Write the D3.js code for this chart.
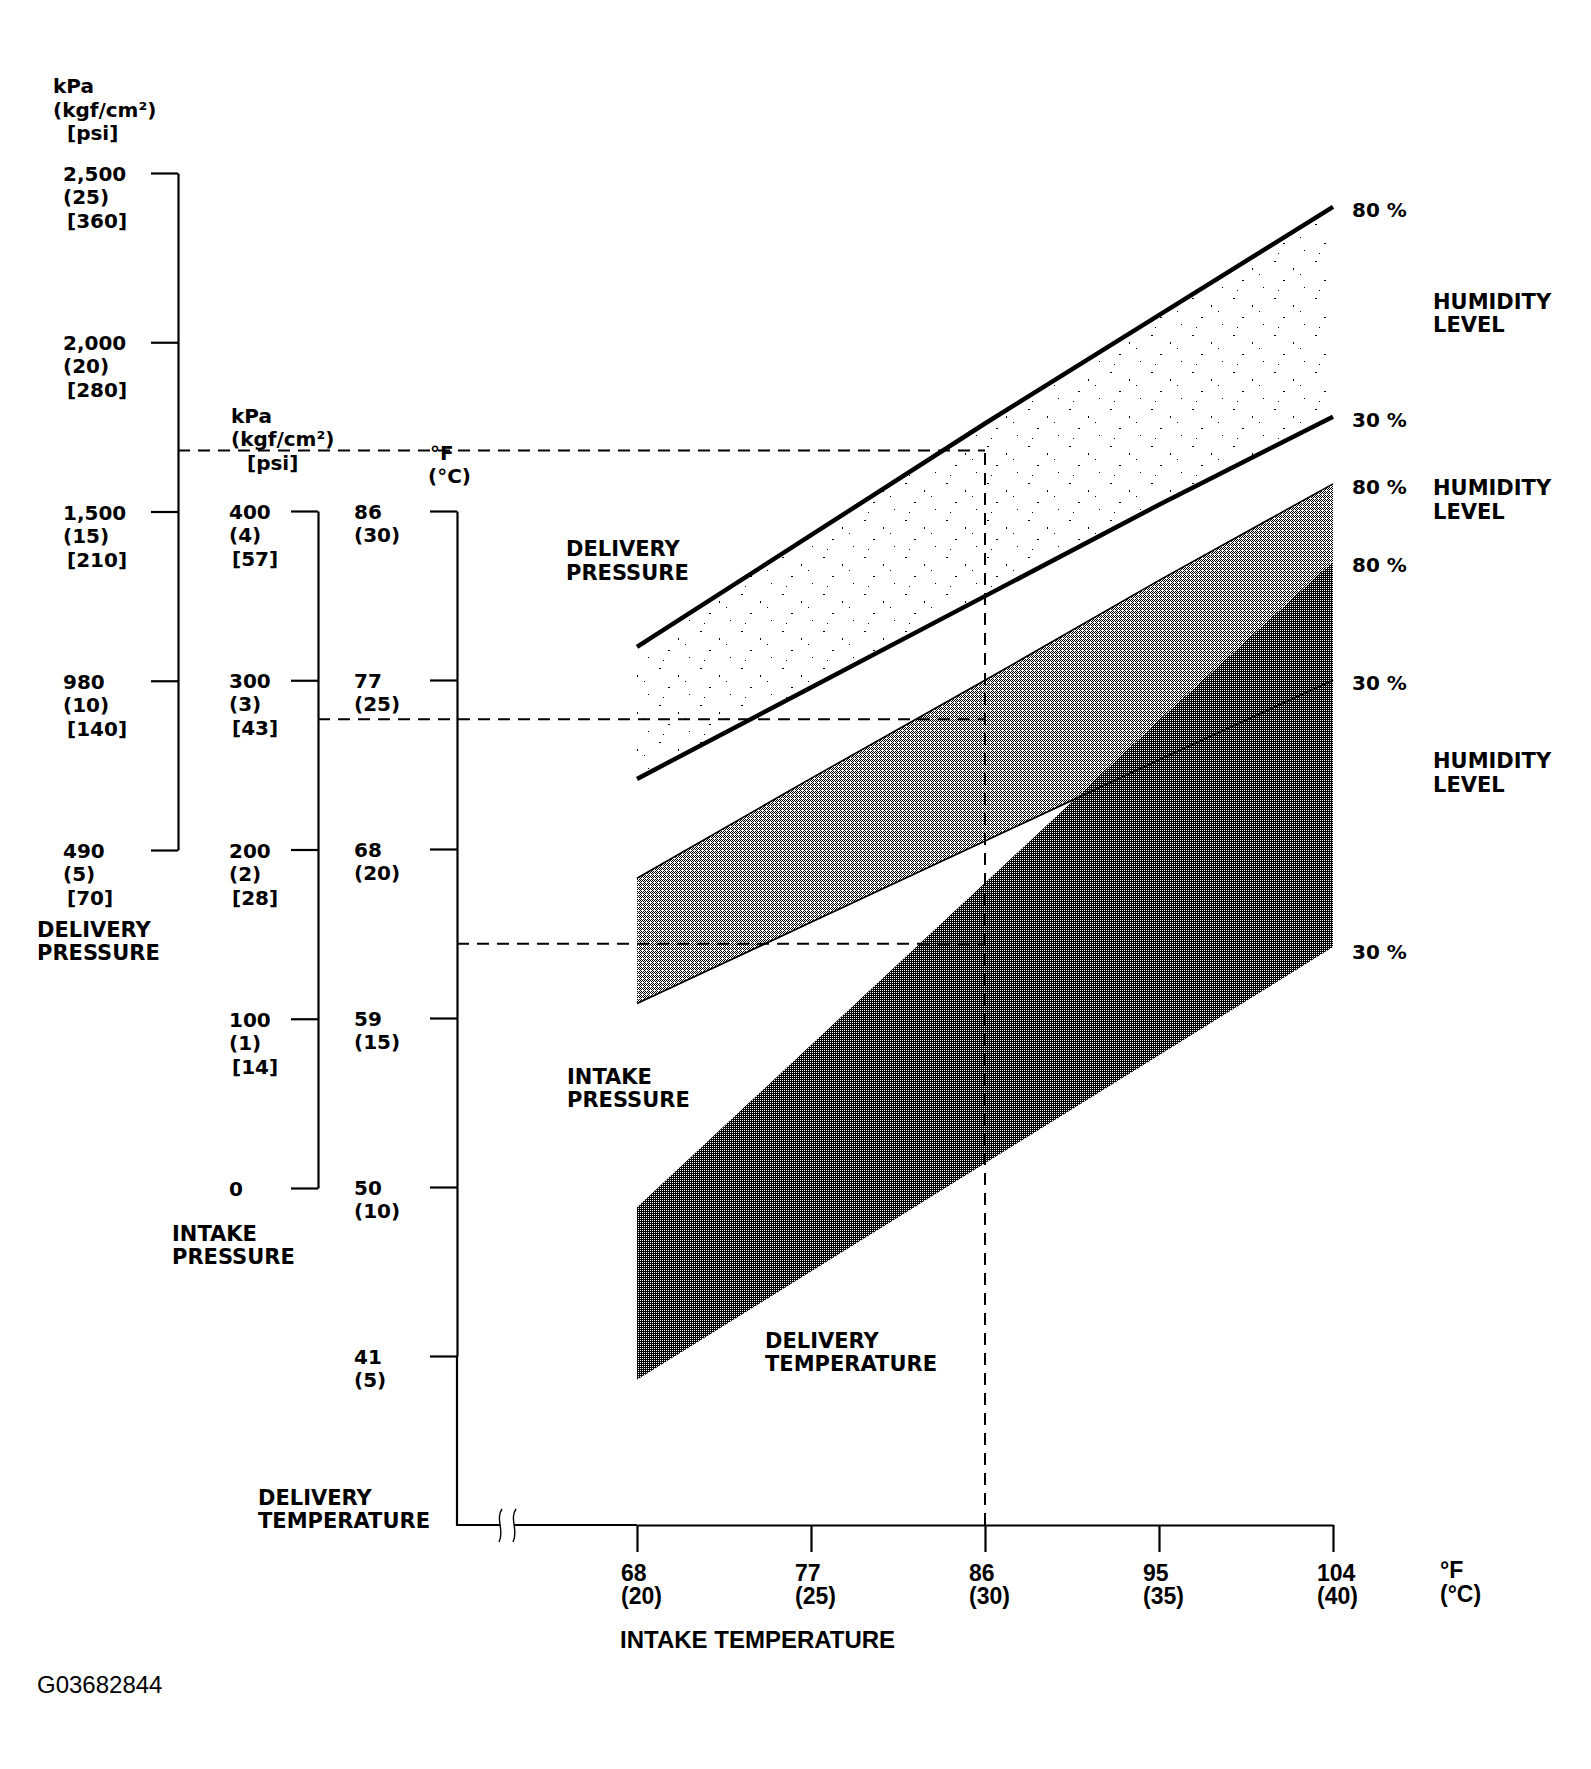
<!DOCTYPE html>
<html><head><meta charset="utf-8">
<script src="https://cdn.jsdelivr.net/npm/d3@7"></script>
<style>
body{margin:0;background:#fff;}
svg text{font-family:"DejaVu Sans",sans-serif;font-weight:bold;fill:#000;}
.t20{font-size:20px;}
.t21{font-size:21px;}
.pct{font-size:20px;}
.xl{font-family:"Liberation Sans",Arial,sans-serif;font-size:23px;}
.xt{font-family:"Liberation Sans",Arial,sans-serif;font-size:24px;}
.code{font-family:"Liberation Sans",Arial,sans-serif;font-weight:normal !important;font-size:24px;}
</style></head><body>
<svg id="chart" width="1591" height="1769"></svg>
<script>
// ---------- data ----------
const intakeTempC = [20, 25, 30, 35, 40];
const intakeTempF = [68, 77, 86, 95, 104];

const dpKpa = ["2,500", "2,000", "1,500", "980", "490"];
const dpKgf = [25, 20, 15, 10, 5];
const dpPsi = [360, 280, 210, 140, 70];

const ipKpa = ["400", "300", "200", "100", "0"];
const ipKgf = [4, 3, 2, 1, 0];
const ipPsi = [57, 43, 28, 14, null];

const dtF = [86, 77, 68, 59, 50, 41];
const dtC = [30, 25, 20, 15, 10, 5];

// band values at intakeTempC (kgf/cm2 for pressures, degC for temperature)
const deliveryPressure80 = [11.0, 14.3, 17.6, 20.8, 24.0];
const deliveryPressure30 = [7.1, 9.8, 12.5, 15.2, 17.8];
const intakePressure80 = [1.83, 2.42, 3.0, 3.59, 4.16];
const intakePressure30 = [1.09, 1.57, 2.05, 2.53, 3.0];
const deliveryTemp80 = [9.4, 14.2, 19.0, 23.8, 28.5];
const deliveryTemp30 = [4.3, 7.5, 10.7, 13.9, 17.1];

// example reading (dashed lines)
const exampleTempC = 30;
const exampleDeliveryPressure = 16.8;
const exampleIntakePressure = 2.77;
const exampleDeliveryTemp = 17.2;

// ---------- layout ----------
const svg = d3.select("#chart");
const dpAxisX = 178, ipAxisX = 318, dtAxisX = 457, xAxisY = 1525;

const x = d3.scaleLinear().domain([20, 40]).range([637, 1333]);
const yDP = d3.scaleLinear().domain([5, 25]).range([850, 173]);
const yIP = d3.scaleLinear().domain([0, 4]).range([1188, 511]);
const yDT = d3.scaleLinear().domain([5, 30]).range([1356, 511]);

// ---------- patterns ----------
const defs = svg.append("defs");
const pDots = defs.append("pattern").attr("id", "dots").attr("patternUnits", "userSpaceOnUse")
  .attr("width", 41).attr("height", 37);
[[3, 2, 2, 1], [22, 9, 1, 2], [12, 21, 2, 1], [33, 28, 1, 1], [29, 15, 1, 1], [7, 31, 1, 1]].forEach(r =>
  pDots.append("rect").attr("x", r[0]).attr("y", r[1]).attr("width", r[2]).attr("height", r[3]).attr("fill", "#000"));
const pLight = defs.append("pattern").attr("id", "light").attr("patternUnits", "userSpaceOnUse")
  .attr("width", 4).attr("height", 4);
pLight.append("rect").attr("width", 4).attr("height", 4).attr("fill", "#fff");
[[0, 0], [2, 0], [1, 1], [3, 1], [0, 2], [1, 3], [3, 3]].forEach(p =>
  pLight.append("rect").attr("x", p[0]).attr("y", p[1]).attr("width", 1).attr("height", 1).attr("fill", "#000"));
const pDark = defs.append("pattern").attr("id", "dark").attr("patternUnits", "userSpaceOnUse")
  .attr("width", 2).attr("height", 2);
pDark.append("rect").attr("width", 2).attr("height", 2).attr("fill", "#000");
pDark.append("rect").attr("x", 0).attr("y", 0).attr("width", 1).attr("height", 1).attr("fill", "#fff");

// ---------- bands ----------
const rows = (lo, hi) => intakeTempC.map((t, i) => ({ t, lo: lo[i], hi: hi[i] }));
const area = ys => d3.area().x(d => x(d.t)).y0(d => ys(d.lo)).y1(d => ys(d.hi));
const line = (ys, key) => d3.line().x(d => x(d.t)).y(d => ys(d[key]));

const dpRows = rows(deliveryPressure30, deliveryPressure80);
const ipRows = rows(intakePressure30, intakePressure80);
const dtRows = rows(deliveryTemp30, deliveryTemp80);

svg.append("path").datum(dpRows).attr("d", area(yDP)).attr("fill", "url(#dots)");
svg.append("path").datum(dpRows).attr("d", line(yDP, "hi")).attr("fill", "none").attr("stroke", "#000").attr("stroke-width", 4.5);
svg.append("path").datum(dpRows).attr("d", line(yDP, "lo")).attr("fill", "none").attr("stroke", "#000").attr("stroke-width", 4.5);

svg.append("path").datum(ipRows).attr("d", area(yIP)).attr("fill", "url(#light)");
svg.append("path").datum(dtRows).attr("d", area(yDT)).attr("fill", "url(#dark)");
svg.append("path").datum(ipRows).attr("d", line(yIP, "hi")).attr("fill", "none").attr("stroke", "#000").attr("stroke-width", 1.6);
svg.append("path").datum(ipRows).attr("d", line(yIP, "lo")).attr("fill", "none").attr("stroke", "#000").attr("stroke-width", 1.8);

// ---------- dashed reading lines ----------
const dash = "12,8";
const ex = x(exampleTempC);
const dg = svg.append("g").attr("stroke", "#000").attr("stroke-width", 2).attr("stroke-dasharray", dash).attr("fill", "none");
dg.append("line").attr("x1", ex).attr("x2", ex).attr("y1", xAxisY).attr("y2", yDP(exampleDeliveryPressure));
dg.append("line").attr("x1", dpAxisX).attr("x2", ex).attr("y1", yDP(exampleDeliveryPressure)).attr("y2", yDP(exampleDeliveryPressure));
dg.append("line").attr("x1", ipAxisX).attr("x2", ex).attr("y1", yIP(exampleIntakePressure)).attr("y2", yIP(exampleIntakePressure));
dg.append("line").attr("x1", dtAxisX).attr("x2", ex).attr("y1", yDT(exampleDeliveryTemp)).attr("y2", yDT(exampleDeliveryTemp));

// ---------- axes ----------
function styleAxis(g) {
  g.selectAll(".domain").attr("stroke", "#000").attr("stroke-width", 2.2);
  g.selectAll(".tick line").attr("stroke", "#000").attr("stroke-width", 2.2);
  g.selectAll(".tick text").remove();
}
svg.append("g").attr("transform", `translate(${dpAxisX},0)`)
  .call(d3.axisLeft(yDP).tickValues(dpKgf).tickSize(27).tickSizeOuter(0)).call(styleAxis);
svg.append("g").attr("transform", `translate(${ipAxisX},0)`)
  .call(d3.axisLeft(yIP).tickValues(ipKgf).tickSize(27).tickSizeOuter(0)).call(styleAxis);
svg.append("g").attr("transform", `translate(${dtAxisX},0)`)
  .call(d3.axisLeft(yDT).tickValues(dtC).tickSize(27).tickSizeOuter(0)).call(styleAxis);
svg.append("g").attr("transform", `translate(0,${xAxisY})`)
  .call(d3.axisBottom(x).tickValues(intakeTempC).tickSize(27).tickSizeOuter(0)).call(styleAxis);

// axis extensions + break marks
const ag = svg.append("g").attr("stroke", "#000").attr("stroke-width", 2.2).attr("fill", "none");
ag.append("line").attr("x1", dtAxisX).attr("x2", dtAxisX).attr("y1", yDT(5)).attr("y2", xAxisY + 1);
ag.append("line").attr("x1", dtAxisX - 1).attr("x2", 500).attr("y1", xAxisY).attr("y2", xAxisY);
ag.append("line").attr("x1", 514).attr("x2", x(20)).attr("y1", xAxisY).attr("y2", xAxisY);
[500, 514].forEach(bx => {
  ag.append("path").attr("stroke-width", 1.4)
    .attr("d", `M${bx + 2},${xAxisY - 16} C${bx - 5},${xAxisY - 6} ${bx + 5},${xAxisY + 6} ${bx - 1},${xAxisY + 17}`);
});

// ---------- text ----------
function txt(s, tx, ty, cls) {
  svg.append("text").attr("x", tx).attr("y", ty).attr("class", cls).text(s);
}
dpKgf.forEach((v, i) => {
  const ty = yDP(v);
  txt(dpKpa[i], 63, ty + 8, "t20");
  txt(`(${v})`, 63, ty + 31, "t20");
  txt(`[${dpPsi[i]}]`, 67, ty + 55, "t20");
});
ipKgf.forEach((v, i) => {
  const ty = yIP(v);
  txt(ipKpa[i], 229, ty + 8, "t20");
  if (ipPsi[i] !== null) {
    txt(`(${v})`, 229, ty + 31, "t20");
    txt(`[${ipPsi[i]}]`, 232, ty + 55, "t20");
  }
});
dtC.forEach((v, i) => {
  const ty = yDT(v);
  txt(String(dtF[i]), 354, ty + 8, "t20");
  txt(`(${v})`, 354, ty + 31, "t20");
});
intakeTempC.forEach((v, i) => {
  txt(String(intakeTempF[i]), x(v) - 16, 1581, "xl");
  txt(`(${v})`, x(v) - 16, 1604, "xl");
});
txt("°F", 1440, 1578, "xl");
txt("(°C)", 1440, 1602, "xl");
txt("INTAKE TEMPERATURE", 620, 1648, "xt");
txt("G03682844", 37, 1693, "code");

// unit headers
txt("kPa", 53, 93, "t20");
txt("(kgf/cm²)", 53, 117, "t20");
txt("[psi]", 67, 140, "t20");
txt("kPa", 231, 423, "t20");
txt("(kgf/cm²)", 231, 446, "t20");
txt("[psi]", 247, 470, "t20");
txt("°F", 430, 460, "t20");
txt("(°C)", 428, 483, "t20");

// axis titles
txt("DELIVERY", 37, 937, "t21"); txt("PRESSURE", 37, 960, "t21");
txt("INTAKE", 172, 1241, "t21"); txt("PRESSURE", 172, 1264, "t21");
txt("DELIVERY", 258, 1505, "t21"); txt("TEMPERATURE", 258, 1528, "t21");

// band titles
txt("DELIVERY", 566, 556, "t21"); txt("PRESSURE", 566, 580, "t21");
txt("INTAKE", 567, 1084, "t21"); txt("PRESSURE", 567, 1107, "t21");
txt("DELIVERY", 765, 1348, "t21"); txt("TEMPERATURE", 765, 1371, "t21");

// humidity labels at band ends
const last = a => a[a.length - 1];
txt("80 %", 1352, yDP(last(deliveryPressure80)) + 10, "pct");
txt("30 %", 1352, yDP(last(deliveryPressure30)) + 10, "pct");
txt("80 %", 1352, yIP(last(intakePressure80)) + 10, "pct");
txt("30 %", 1352, yIP(last(intakePressure30)) + 10, "pct");
txt("80 %", 1352, yDT(last(deliveryTemp80)) + 10, "pct");
txt("30 %", 1352, yDT(last(deliveryTemp30)) + 12, "pct");
txt("HUMIDITY", 1433, 309, "t21"); txt("LEVEL", 1433, 332, "t21");
txt("HUMIDITY", 1433, 495, "t21"); txt("LEVEL", 1433, 519, "t21");
txt("HUMIDITY", 1433, 768, "t21"); txt("LEVEL", 1433, 792, "t21");
</script>
</body></html>
